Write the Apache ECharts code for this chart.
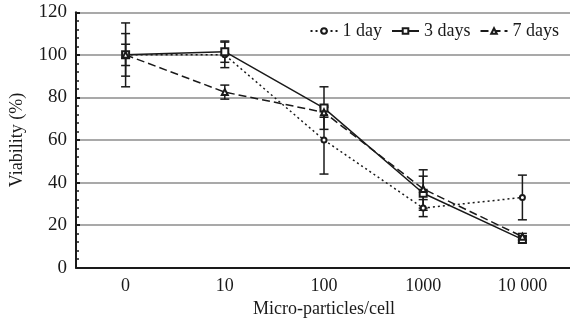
<!DOCTYPE html>
<html>
<head>
<meta charset="utf-8">
<script src="https://cdn.jsdelivr.net/npm/echarts@6/dist/echarts.min.js"></script>
<style>
  html, body { margin: 0; padding: 0; background: #fff; }
  #chart { width: 570px; height: 320px; }
</style>
</head>
<body>
<div id="chart"></div>
<script>
// data
const categories = ['0', '10', '100', '1000', '10 000'];
const day1 = [100, 100, 60, 28, 33];
const day1Err = [15, 6, 16, 4, 10.5];
const day3 = [100, 101.5, 75, 35, 13.3];
const day3Err = [10, 5, 10, 8, 1.5];
const day7 = [100, 82.5, 73, 37, 14.6];
const day7Err = [5, 3.3, 2.3, 9, 1.5];
const yTicks = [0, 20, 40, 60, 80, 100, 120];

const FONT = 'Liberation Serif';
const INK = '#1a1a1a';

const chart = echarts.init(document.getElementById('chart'), null, { renderer: 'canvas' });

// error bars drawn through the axis scales
function errorSeries(vals, errs) {
  return {
    type: 'custom',
    silent: true,
    z: 1,
    data: vals.map((v, i) => [i, v - errs[i], v + errs[i]]),
    renderItem: function (params, api) {
      const lo = api.coord([api.value(0), api.value(1)]);
      const hi = api.coord([api.value(0), api.value(2)]);
      const cap = 4.5;
      const style = { stroke: INK, lineWidth: 1.5 };
      return {
        type: 'group',
        children: [
          { type: 'line', shape: { x1: lo[0], y1: lo[1], x2: hi[0], y2: hi[1] }, style: style },
          { type: 'line', shape: { x1: lo[0] - cap, y1: lo[1], x2: lo[0] + cap, y2: lo[1] }, style: style },
          { type: 'line', shape: { x1: hi[0] - cap, y1: hi[1], x2: hi[0] + cap, y2: hi[1] }, style: style }
        ]
      };
    }
  };
}

const baseX = {
  type: 'category',
  data: categories,
  boundaryGap: true
};

const option = {
  animation: false,
  textStyle: { fontFamily: FONT },
  grid: { left: 76, top: 12.3, bottom: 52.3, right: -2, outerBoundsMode: 'none', containLabel: false },
  legend: {
    right: 6,
    top: 17,
    itemWidth: 27,
    itemHeight: 7,
    itemGap: 9,
    textStyle: { fontFamily: FONT, fontSize: 18, color: INK },
    data: ['1 day', '3 days', '7 days']
  },
  xAxis: [
    Object.assign({}, baseX, {
      axisLine: { lineStyle: { color: INK, width: 2 } },
      axisTick: { inside: false, length: 4, lineStyle: { color: INK, width: 2 } },
      axisLabel: { fontFamily: FONT, fontSize: 18, color: INK, margin: 10 },
      name: 'Micro-particles/cell',
      nameLocation: 'middle',
      nameGap: 30,
      nameTextStyle: { fontFamily: FONT, fontSize: 18, color: INK }
    }),
    Object.assign({}, baseX, {
      position: 'bottom',
      axisLine: { show: false },
      axisTick: { inside: true, length: 4, lineStyle: { color: INK, width: 2 } },
      axisLabel: { show: false }
    }),
    Object.assign({}, baseX, {
      position: 'bottom',
      axisLine: { show: false },
      axisTick: { inside: true, alignWithLabel: true, length: 3, lineStyle: { color: INK, width: 1.5 } },
      axisLabel: { show: false }
    })
  ],
  yAxis: [
    {
      type: 'value',
      min: yTicks[0],
      max: yTicks[yTicks.length - 1],
      interval: 20,
      axisLine: { show: true, lineStyle: { color: INK, width: 2 } },
      axisTick: { show: true, inside: true, length: 4, lineStyle: { color: INK, width: 2 } },
      minorTick: { show: true, splitNumber: 5, length: 3, lineStyle: { color: INK, width: 1.5 } },
      axisLabel: { fontFamily: FONT, fontSize: 19, color: INK, margin: 9 },
      splitLine: { show: true, lineStyle: { color: '#8c8c8c', width: 1.5 } },
      name: 'Viability (%)',
      nameLocation: 'middle',
      nameGap: 50,
      nameTextStyle: { fontFamily: FONT, fontSize: 18, color: INK }
    },
    {
      type: 'value',
      min: yTicks[0],
      max: yTicks[yTicks.length - 1],
      interval: 20,
      axisLine: { show: false },
      axisTick: { show: true, inside: false, length: 3, lineStyle: { color: INK, width: 2 } },
      axisLabel: { show: false },
      splitLine: { show: false }
    }
  ],
  series: [
    errorSeries(day1, day1Err),
    errorSeries(day3, day3Err),
    errorSeries(day7, day7Err),
    {
      name: '1 day',
      type: 'line',
      data: day1,
      z: 3,
      symbol: 'emptyCircle',
      symbolSize: 5,
      lineStyle: { color: INK, width: 1.5, type: [2, 3] },
      itemStyle: { color: INK, borderWidth: 1.2 }
    },
    {
      name: '3 days',
      type: 'line',
      data: day3,
      z: 3,
      symbol: 'emptyRect',
      symbolSize: 7,
      lineStyle: { color: INK, width: 1.5 },
      itemStyle: { color: INK, borderWidth: 1.3 }
    },
    {
      name: '7 days',
      type: 'line',
      data: day7,
      z: 3,
      symbol: 'emptyTriangle',
      symbolSize: 6,
      lineStyle: { color: INK, width: 1.5, type: [8, 4] },
      itemStyle: { color: INK, borderWidth: 1.2 }
    }
  ]
};

chart.setOption(option);
</script>
</body>
</html>
